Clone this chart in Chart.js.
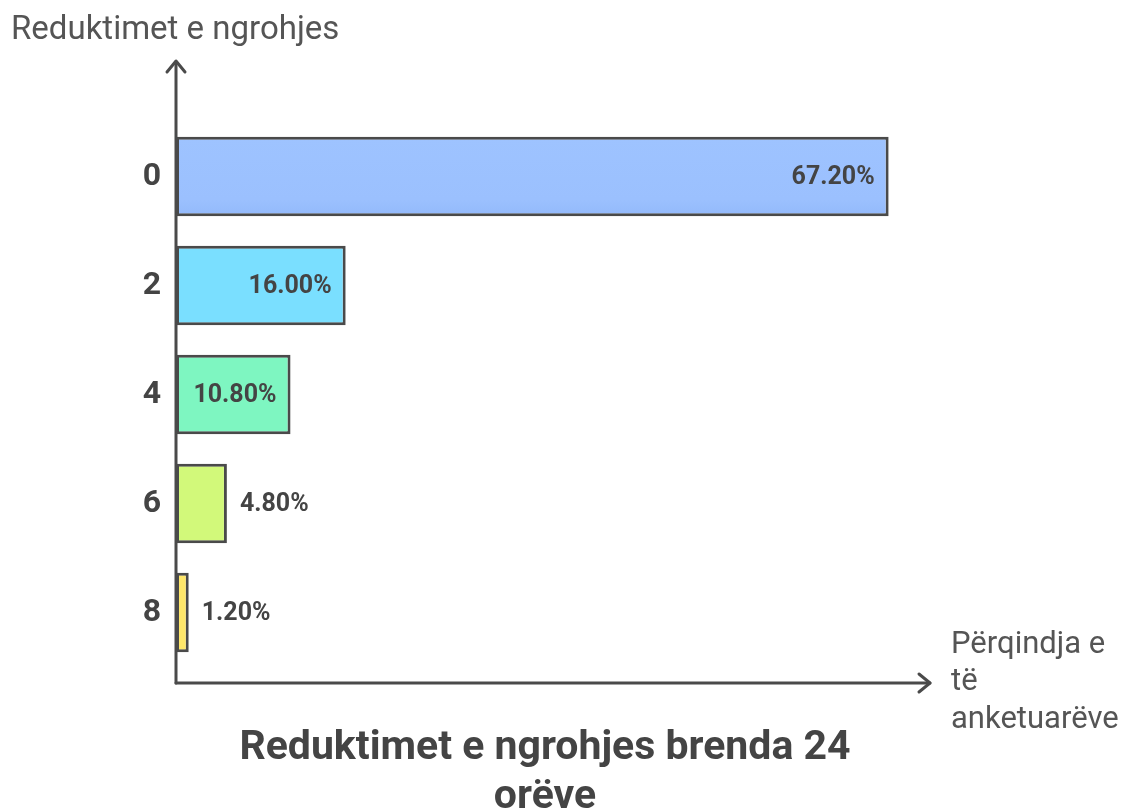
<!DOCTYPE html>
<html>
<head>
<meta charset="utf-8">
<script src="https://cdn.jsdelivr.net/npm/chart.js@4"></script>
<style>
  html, body { margin: 0; padding: 0; background: #fff; }
  #wrap { width: 1132px; height: 812px; }
</style>
</head>
<body>
<div id="wrap"><canvas id="chart" width="1132" height="812"></canvas></div>
<script>
// Kategorien (Reduktimet e ngrohjes) und Werte in Prozent
const kategorien = ['0', '2', '4', '6', '8'];
const prozente = [67.2, 16.0, 10.8, 4.8, 1.2];
const balkenFarben = ['#9dc2fe', '#7adfff', '#7ef6c1', '#d2f97a', '#ffe76a'];
const achsenTitelY = 'Reduktimet e ngrohjes';
const achsenTitelX = ['Përqindja e', 'të', 'anketuarëve'];
const diagrammTitel = ['Reduktimet e ngrohjes brenda 24', 'orëve'];

const dunkel = '#4a4a4a';
const schrift = 'Roboto, "Noto Sans", sans-serif';

// Pfeile, Achsentitel, Werte und Titel selbst zeichnen
const dekoPlugin = {
  id: 'deko',
  afterDatasetsDraw(chart) {
    const ctx = chart.ctx;
    const area = chart.chartArea;
    const x0 = area.left;
    const yAchse = area.bottom + 16;
    const xEnde = area.right;

    ctx.save();
    ctx.strokeStyle = dunkel;
    ctx.lineWidth = 3;
    ctx.lineCap = 'round';
    ctx.lineJoin = 'round';

    // y-Achse mit Pfeil
    ctx.beginPath();
    ctx.moveTo(x0, yAchse);
    ctx.lineTo(x0, 62);
    ctx.stroke();
    ctx.beginPath();
    ctx.moveTo(x0 - 9, 72);
    ctx.lineTo(x0, 61);
    ctx.lineTo(x0 + 9, 72);
    ctx.stroke();

    // x-Achse mit Pfeil
    ctx.beginPath();
    ctx.moveTo(x0, yAchse);
    ctx.lineTo(xEnde, yAchse);
    ctx.stroke();
    ctx.beginPath();
    ctx.moveTo(xEnde - 11, yAchse - 9);
    ctx.lineTo(xEnde, yAchse);
    ctx.lineTo(xEnde - 11, yAchse + 9);
    ctx.stroke();

    // Achsentitel
    ctx.fillStyle = '#555';
    ctx.font = '33px ' + schrift;
    ctx.textAlign = 'left';
    ctx.textBaseline = 'middle';
    ctx.fillText(achsenTitelY, 11, 31);

    ctx.font = '31px ' + schrift;
    achsenTitelX.forEach((zeile, i) => {
      ctx.fillText(zeile, xEnde + 21, 645 + i * 37.5);
    });

    // Werte an den Balken
    ctx.fillStyle = '#444';
    ctx.font = 'bold 25px ' + schrift;
    const meta = chart.getDatasetMeta(0);
    meta.data.forEach((bar, i) => {
      const text = prozente[i].toFixed(2) + '%';
      const breite = ctx.measureText(text).width;
      const balkenBreite = bar.x - bar.base;
      if (balkenBreite > breite + 26) {
        ctx.textAlign = 'right';
        ctx.fillText(text, bar.x - 14, bar.y + 1);
      } else {
        ctx.textAlign = 'left';
        ctx.fillText(text, bar.x + 13, bar.y + 1);
      }
    });

    // Diagrammtitel unten
    ctx.fillStyle = '#444';
    ctx.font = 'bold 41px ' + schrift;
    ctx.textAlign = 'center';
    diagrammTitel.forEach((zeile, i) => {
      ctx.fillText(zeile, 545, 749 + i * 49);
    });
    ctx.restore();
  }
};

const ctx = document.getElementById('chart').getContext('2d');

// erster Balken mit ganz leichtem Verlauf wie im Original
const verlauf = ctx.createLinearGradient(0, 137, 0, 216);
verlauf.addColorStop(0, '#9ec3ff');
verlauf.addColorStop(0.8, '#9bc0fe');
verlauf.addColorStop(1, '#93b9fb');
balkenFarben[0] = verlauf;

new Chart(ctx, {
  type: 'bar',
  data: {
    labels: kategorien,
    datasets: [{
      data: prozente,
      backgroundColor: balkenFarben,
      borderColor: dunkel,
      borderWidth: 3,
      borderSkipped: false,
      barPercentage: 0.73,
      categoryPercentage: 1
    }]
  },
  options: {
    indexAxis: 'y',
    responsive: false,
    animation: false,
    layout: {
      padding: { left: 0, top: 122, right: 202, bottom: 145 }
    },
    plugins: {
      legend: { display: false },
      tooltip: { enabled: false },
      title: { display: false }
    },
    scales: {
      x: {
        display: false,
        min: 0,
        max: 71.1
      },
      y: {
        grid: { display: false, drawTicks: false },
        border: { display: false },
        ticks: {
          color: '#444',
          font: { family: schrift, size: 32, weight: 'bold' },
          padding: 15
        },
        afterFit(scale) { scale.width = 176; }
      }
    }
  },
  plugins: [dekoPlugin]
});
</script>
</body>
</html>
